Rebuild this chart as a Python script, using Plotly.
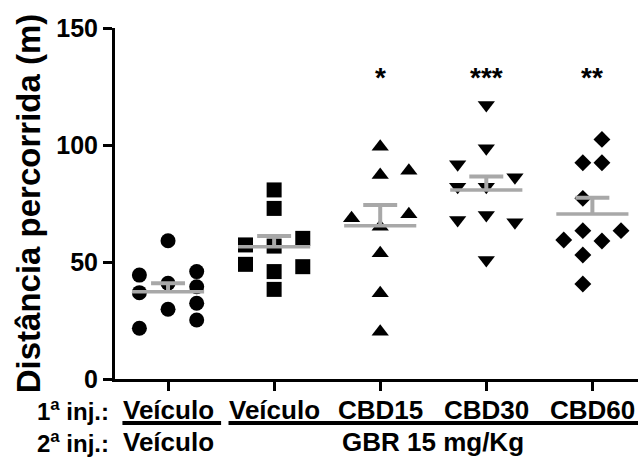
import plotly.graph_objects as go

# ---- data ----
categories = ["Veículo", "Veículo", "CBD15", "CBD30", "CBD60"]
symbols = ["circle", "square", "triangle-up", "triangle-down", "diamond"]
marker_sizes = [15, 15, 15, 15, 13]

g1_vals = [59.1, 44.4, 36.9, 21.7, 40.9, 29.8, 45.9, 39.4, 32.4, 25.2]
g1_cols = [0, -1, -1, -1, 0, 0, 1, 1, 1, 1]
g2_vals = [80.8, 72.9, 56.8, 45.9, 38.3, 57.3, 49.0, 60.1, 48.0]
g2_cols = [0, 0, 0, 0, 0, -1, -1, 1, 1]
g3_vals = [99.3, 89.0, 87.2, 70.4, 68.7, 65.1, 53.7, 36.6, 20.2]
g3_cols = [0, 1, 0, 1, -1, 0, 0, 0, 0]
g4_vals = [117.1, 98.6, 91.8, 86.2, 82.2, 82.2, 67.9, 70.1, 67.0, 50.9]
g4_cols = [0, 0, -1, 1, -1, 0, -1, 0, 1, 0]
g5_vals = [102.4, 92.4, 92.4, 77.2, 63.4, 63.4, 59.4, 59.0, 53.0, 40.6]
g5_cols = [0.5, -0.5, 0.5, -0.5, -0.5, 1.5, -1.5, 0.5, -0.5, -0.5]

group_vals = [g1_vals, g2_vals, g3_vals, g4_vals, g5_vals]
group_cols = [g1_cols, g2_cols, g3_cols, g4_cols, g5_cols]
col_step = [0.27, 0.27, 0.27, 0.27, 0.18]

means = [37.3, 56.5, 65.5, 80.8, 70.5]
sems = [3.6, 4.6, 8.9, 5.7, 7.0]
stars = ["", "", "*", "***", "**"]
star_y = 129

FONT = "Liberation Sans, Arial, sans-serif"
GRAY = "#a8a8a8"

fig = go.Figure()

for i, (vals, cols) in enumerate(zip(group_vals, group_cols)):
    xs = [i + c * col_step[i] for c in cols]
    fig.add_trace(go.Scatter(
        x=xs, y=vals, mode="markers",
        marker=dict(symbol=symbols[i], size=marker_sizes[i], color="black",
                    line=dict(width=0)),
        showlegend=False, hoverinfo="y", cliponaxis=False))

# mean lines and upper SEM bars (drawn over markers)
for i, (m, s) in enumerate(zip(means, sems)):
    fig.add_trace(go.Scatter(x=[i - 0.34, i + 0.34], y=[m, m], mode="lines",
                             line=dict(color=GRAY, width=3.5),
                             showlegend=False, hoverinfo="skip"))
    fig.add_trace(go.Scatter(x=[i, i], y=[m, m + s], mode="lines",
                             line=dict(color=GRAY, width=4),
                             showlegend=False, hoverinfo="skip"))
    fig.add_trace(go.Scatter(x=[i - 0.16, i + 0.16], y=[m + s, m + s], mode="lines",
                             line=dict(color=GRAY, width=4),
                             showlegend=False, hoverinfo="skip"))

annotations = []
for i, st in enumerate(stars):
    if st:
        annotations.append(dict(x=i, y=star_y, xref="x", yref="y", text=st,
                                showarrow=False,
                                font=dict(family=FONT, size=28, color="black", weight="bold")))

# first row: 1ª inj.
for i, c in enumerate(categories):
    annotations.append(dict(x=i, y=0, xref="x", yref="paper", text=c,
                            showarrow=False, yanchor="middle", yshift=-31,
                            font=dict(family=FONT, size=26, color="black", weight="bold")))
row_labels = ["1<sup>a</sup> inj.:", "2<sup>a</sup> inj.:"]
annotations.append(dict(x=-0.5, y=0, xref="x", yref="paper", text=row_labels[0],
                        showarrow=False, xanchor="right", yanchor="middle",
                        xshift=-4, yshift=-31,
                        font=dict(family=FONT, size=24, color="black", weight="bold")))
annotations.append(dict(x=-0.5, y=0, xref="x", yref="paper", text=row_labels[1],
                        showarrow=False, xanchor="right", yanchor="middle",
                        xshift=-4, yshift=-63,
                        font=dict(family=FONT, size=24, color="black", weight="bold")))
annotations.append(dict(x=0, y=0, xref="x", yref="paper", text="Veículo",
                        showarrow=False, yanchor="middle", yshift=-63,
                        font=dict(family=FONT, size=26, color="black", weight="bold")))
annotations.append(dict(x=2.5, y=0, xref="x", yref="paper", text="GBR 15 mg/Kg",
                        showarrow=False, yanchor="middle", yshift=-63,
                        font=dict(family=FONT, size=26, color="black", weight="bold")))

ul_y = -44 / 351
shapes = [
    dict(type="line", xref="x", yref="paper", x0=-0.43, x1=0.5, y0=ul_y, y1=ul_y,
         line=dict(color="black", width=4), layer="above"),
    dict(type="line", xref="x", yref="paper", x0=0.57, x1=4.43, y0=ul_y, y1=ul_y,
         line=dict(color="black", width=4), layer="above"),
]

fig.update_layout(
    width=638, height=464,
    margin=dict(l=115, r=0, t=28, b=85),
    plot_bgcolor="white", paper_bgcolor="white",
    annotations=annotations, shapes=shapes,
    xaxis=dict(range=[-0.5, 4.43], tickvals=[0, 1, 2, 3, 4], showticklabels=False,
               showgrid=False, zeroline=False, showline=True, linecolor="black",
               linewidth=3, ticks="outside", ticklen=9, tickwidth=3, tickcolor="black"),
    yaxis=dict(range=[0, 150], tickvals=[0, 50, 100, 150], showgrid=False,
               zeroline=False, showline=True, linecolor="black", linewidth=3,
               ticks="outside", ticklen=9, tickwidth=3, tickcolor="black",
               tickfont=dict(family=FONT, size=25, color="black", weight="bold"),
               title=dict(text="Distância percorrida (m)", standoff=6,
                          font=dict(family=FONT, size=33, color="black", weight="bold"))),
)

fig.write_html("out.html")
